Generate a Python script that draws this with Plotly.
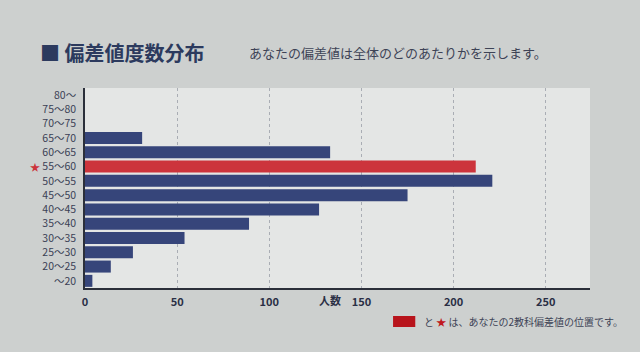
import plotly.graph_objects as go

categories = ["80～", "75～80", "70～75", "65～70", "60～65", "55～60", "50～55",
              "45～50", "40～45", "35～40", "30～35", "25～30", "20～25", "～20"]
counts = [0, 0, 0, 31, 133, 212, 221, 175, 127, 89, 54, 26, 14, 4]
my_band = "55～60"
x_ticks = [0, 50, 100, 150, 200, 250]

navy = "#36457a"
red = "#cc343c"
colors = [red if c == my_band else navy for c in categories]

fig = go.Figure()
fig.add_trace(go.Bar(
    y=categories, x=counts, orientation="h",
    marker=dict(color=colors, line=dict(width=0)),
    hoverinfo="x+y", showlegend=False,
))

fig.update_layout(
    width=640, height=352,
    margin=dict(l=85, r=50, t=88, b=64),
    paper_bgcolor="#cdd0cf",
    plot_bgcolor="#e4e6e5",
    bargap=0.16,
    font=dict(family="Noto Sans CJK JP", color="#2a2f45"),
    xaxis=dict(
        range=[0, 274], tickvals=x_ticks, ticktext=[str(v) for v in x_ticks],
        showgrid=True, gridcolor="#a9adb4", gridwidth=1, griddash="dot",
        zeroline=False, showline=True, linecolor="#2b2f3a", linewidth=1.5,
        tickfont=dict(size=11, family="Noto Sans CJK JP", color="#2a2f45", weight="bold"),
        ticks="", fixedrange=True, ticklabelstandoff=3,
    ),
    yaxis=dict(
        categoryorder="array", categoryarray=list(reversed(categories)),
        showgrid=False, zeroline=False, showline=True, linecolor="#2b2f3a", linewidth=1.5,
        tickfont=dict(size=10.5, family="Noto Sans CJK JP", color="#3a3f55"),
        ticks="", ticklabelstandoff=5,
    ),
)

fig.add_annotation(text="<b>■ 偏差値度数分布</b>", xref="paper", yref="paper",
                   x=-0.093, y=1.18, xanchor="left", yanchor="middle",
                   showarrow=False, font=dict(size=20, color="#2c3a5e"))
fig.add_annotation(text="あなたの偏差値は全体のどのあたりかを示します。", xref="paper", yref="paper",
                   x=0.32, y=1.175, xanchor="left", yanchor="middle",
                   showarrow=False, font=dict(size=13, color="#3d4356"))
fig.add_annotation(text="<b>人数</b>", xref="paper", yref="paper",
                   x=0.485, y=-0.06, xanchor="center", yanchor="middle",
                   showarrow=False, font=dict(size=11, color="#2a2f45"))
fig.add_annotation(text="★", xref="paper", yref="y",
                   x=-0.1, y=my_band, xanchor="center", yanchor="middle",
                   showarrow=False, font=dict(size=10, color=red))
fig.add_shape(type="rect", xref="paper", yref="paper",
              x0=0.61, x1=0.654, y0=-0.195, y1=-0.14,
              fillcolor="#b8141c", line=dict(width=0))
fig.add_annotation(text="と <span style='color:#c01820'>★</span> は、あなたの2教科偏差値の位置です。",
                   xref="paper", yref="paper",
                   x=0.667, y=-0.168, xanchor="left", yanchor="middle",
                   showarrow=False, font=dict(size=10, color="#3d4356"))

fig.write_html("out.html")
